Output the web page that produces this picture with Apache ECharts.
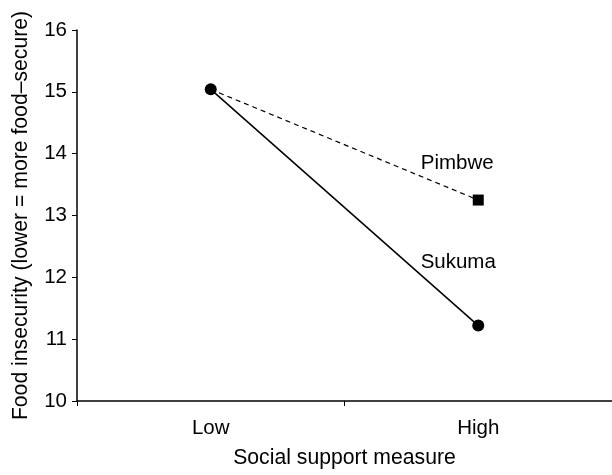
<!DOCTYPE html>
<html>
<head>
<meta charset="utf-8">
<script src="https://cdn.jsdelivr.net/npm/echarts@6/dist/echarts.min.js"></script>
<style>html,body{margin:0;padding:0;background:#fff}#c{width:612px;height:475px}</style>
</head>
<body>
<div id="c"></div>
<script>
const categories = ['Low', 'High'];
const sukuma = [15.04, 11.22];
const pimbwe = [15.04, 13.25];
const yTicks = [10, 11, 12, 13, 14, 15, 16];
const labelPimbwe = { name: 'Pimbwe', at: 'High', value: 13.85 };
const labelSukuma = { name: 'Sukuma', at: 'High', value: 12.25 };

const font = 'Liberation Sans, Arial, Helvetica, sans-serif';
const fs = 20.5;
const fsName = 21.2;
const chart = echarts.init(document.getElementById('c'));
const textLabel = (txt, dx) => ({ show: true, position: 'inside', formatter: txt, offset: [dx, 0], color: '#000', fontSize: fs, fontFamily: font });
chart.setOption({
  animation: false,
  grid: { left: 77, top: 30, width: 536, height: 371 },
  xAxis: {
    type: 'category', data: categories, boundaryGap: true,
    name: 'Social support measure', nameLocation: 'middle', nameGap: 47, nameMoveOverlap: false,
    nameTextStyle: { color: '#000', fontSize: fsName, fontFamily: font },
    axisLine: { lineStyle: { color: '#000', width: 1.5 } },
    axisTick: { show: true, length: 5, lineStyle: { color: '#000', width: 1 } },
    axisLabel: { color: '#000', fontSize: fs, fontFamily: font, margin: 17 }
  },
  yAxis: {
    type: 'value', min: 10, max: 16, interval: 1,
    name: 'Food insecurity (lower = more food\u2013secure)', nameLocation: 'middle', nameGap: 45, nameMoveOverlap: false,
    nameTextStyle: { color: '#000', fontSize: fsName, fontFamily: font },
    axisLine: { show: true, lineStyle: { color: '#000', width: 1.5 } },
    axisTick: { show: true, length: 5, lineStyle: { color: '#000', width: 1 } },
    axisLabel: { color: '#000', fontSize: fs, fontFamily: font, margin: 10,
      formatter: v => yTicks.includes(v) ? String(v) : '' },
    splitLine: { show: false }
  },
  series: [
    {
      name: 'Pimbwe', type: 'line', data: pimbwe, z: 2,
      lineStyle: { color: '#000', width: 1.2, type: [5, 4] },
      itemStyle: { color: '#000' },
      symbol: (v, p) => p.dataIndex === 0 ? 'none' : 'rect', symbolSize: 11,
      markPoint: {
        symbol: 'circle', symbolSize: 1, itemStyle: { color: 'rgba(0,0,0,0)' },
        data: [{ coord: [labelPimbwe.at, labelPimbwe.value], label: textLabel(labelPimbwe.name, -21) }]
      }
    },
    {
      name: 'Sukuma', type: 'line', data: sukuma, z: 3,
      lineStyle: { color: '#000', width: 1.5 },
      itemStyle: { color: '#000' },
      symbol: 'circle', symbolSize: 12,
      markPoint: {
        symbol: 'circle', symbolSize: 1, itemStyle: { color: 'rgba(0,0,0,0)' },
        data: [{ coord: [labelSukuma.at, labelSukuma.value], label: textLabel(labelSukuma.name, -20) }]
      }
    }
  ]
});
</script>
</body>
</html>
